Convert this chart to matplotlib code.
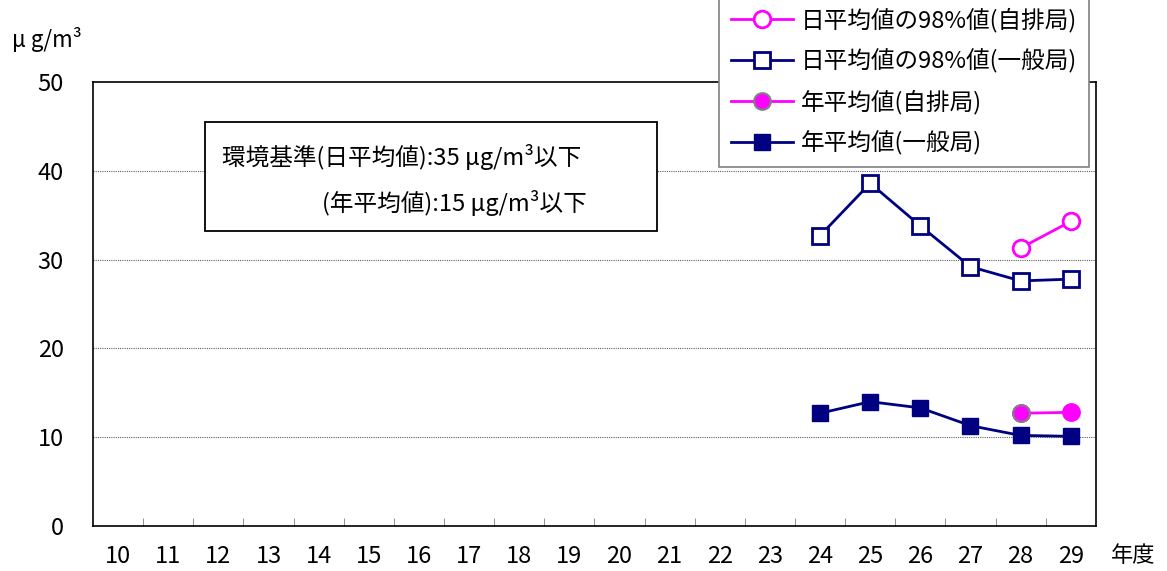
import matplotlib.pyplot as plt
from matplotlib.patches import Rectangle

plt.rcParams['font.family'] = ['Noto Sans CJK JP', 'DejaVu Sans']

years = [str(y) for y in range(10, 30)]

# 日平均値の98%値
d98_ippan_years = ['24', '25', '26', '27', '28', '29']
d98_ippan = [32.7, 38.6, 33.8, 29.2, 27.6, 27.8]
d98_jihai_years = ['28', '29']
d98_jihai = [31.3, 34.3]

# 年平均値
avg_ippan_years = ['24', '25', '26', '27', '28', '29']
avg_ippan = [12.7, 14.0, 13.3, 11.3, 10.2, 10.1]
avg_jihai_years = ['28', '29']
avg_jihai = [12.7, 12.8]

navy = '#000080'
magenta = '#FF00FF'

fig = plt.figure(figsize=(11.67, 5.71), dpi=100)
ax = fig.add_axes([0.0797, 0.0788, 0.8593, 0.7776])

xpos = {y: i for i, y in enumerate(years)}

l1, = ax.plot([xpos[y] for y in d98_jihai_years], d98_jihai, color=magenta, lw=2,
              marker='o', ms=12, mfc='white', mec=magenta, mew=2, zorder=4)
l2, = ax.plot([xpos[y] for y in d98_ippan_years], d98_ippan, color=navy, lw=2,
              marker='s', ms=12, mfc='white', mec=navy, mew=2, zorder=4)
l3, = ax.plot([xpos[y] for y in avg_jihai_years], avg_jihai, color=magenta, lw=2,
              marker='o', ms=12, mfc=magenta, mec=magenta, mew=1.5, zorder=4)
# 28年度の点だけ灰色の縁
ax.plot(xpos['28'], avg_jihai[0], marker='o', ms=12, mfc=magenta, mec='#808080',
        mew=1.5, ls='none', zorder=5)
l4, = ax.plot([xpos[y] for y in avg_ippan_years], avg_ippan, color=navy, lw=2,
              marker='s', ms=12, mfc=navy, mec=navy, zorder=4)

ax.set_xlim(-0.5, len(years) - 0.5)
ax.set_ylim(0, 50)
ax.set_yticks([0, 10, 20, 30, 40, 50])
ax.tick_params(axis='y', length=0, labelsize=17, pad=21)
ax.set_xticks(range(len(years)))
ax.set_xticklabels(years)
ax.tick_params(axis='x', length=0, labelsize=17, pad=14)
ax.set_xticks([i + 0.5 for i in range(len(years) - 1)], minor=True)
ax.tick_params(axis='x', which='minor', direction='in', length=6, color='#808080')
for y in [10, 20, 30, 40]:
    ax.axhline(y, color='#606060', lw=0.8, ls=(0, (1, 1)), zorder=1)
for s in ax.spines.values():
    s.set_linewidth(1.2)
    s.set_color('black')

fig.text(12 / 1167, 1 - 40 / 571, 'μ g/m³', fontsize=16, va='center', ha='left')
fig.text(1133 / 1167, 1 - 556 / 571, '年度', fontsize=16, va='center', ha='center')

# 環境基準の枠
box = Rectangle((205 / 1167, 1 - 231 / 571), (657 - 205) / 1167, (231 - 122) / 571,
                transform=fig.transFigure, fill=True, fc='white', ec='black', lw=1.3,
                zorder=6)
fig.patches.append(box)
fig.text(222 / 1167, 1 - 157 / 571, '環境基準(日平均値):35 μg/m³以下', fontsize=17,
         va='center', ha='left', zorder=7)
fig.text(322 / 1167, 1 - 203 / 571, '(年平均値):15 μg/m³以下', fontsize=17,
         va='center', ha='left', zorder=7)

leg = fig.legend([l1, l2, l3, l4],
                 ['日平均値の98%値(自排局)', '日平均値の98%値(一般局)',
                  '年平均値(自排局)', '年平均値(一般局)'],
                 loc='upper right', bbox_to_anchor=(1089 / 1167, 1.008),
                 fontsize=17, handlelength=2.6, handletextpad=0.35,
                 labelspacing=0.7, borderpad=0.5, borderaxespad=0, fancybox=False,
                 framealpha=1, edgecolor='#808080')
leg.get_frame().set_linewidth(1.2)
leg.legend_handles[2].set_markeredgecolor('#808080')

fig.savefig('out.png', dpi=100)
